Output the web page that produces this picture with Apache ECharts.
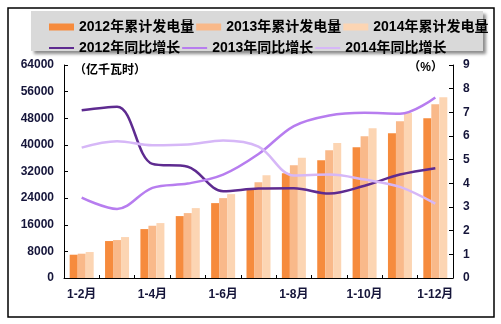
<!DOCTYPE html>
<html>
<head>
<meta charset="utf-8">
<script src="https://cdn.jsdelivr.net/npm/echarts@6/dist/echarts.min.js"></script>
<style>
  html, body { margin: 0; padding: 0; background: #fff; }
  #chart { width: 501px; height: 324px; }
</style>
</head>
<body>
<div id="chart"></div>
<script>
// Cumulative power generation (亿千瓦时) and year-on-year growth (%)
const categories = ['1-2月', '1-3月', '1-4月', '1-5月', '1-6月', '1-7月', '1-8月', '1-9月', '1-10月', '1-11月', '1-12月'];

const gen2012 = [7000, 11100, 14700, 18600, 22500, 26900, 31500, 35400, 39300, 43500, 48000];
const gen2013 = [7300, 11400, 15700, 19500, 24000, 28800, 33900, 38400, 42600, 47100, 52200];
const gen2014 = [7800, 12300, 16500, 21000, 25200, 30900, 36100, 40600, 45000, 49600, 54300];

const yoy2012 = [7.09, 7.24, 4.82, 4.70, 3.67, 3.78, 3.79, 3.57, 3.90, 4.37, 4.64];
const yoy2013 = [3.40, 2.92, 3.81, 3.99, 4.37, 5.24, 6.42, 6.87, 6.98, 6.94, 7.63];
const yoy2014 = [5.51, 5.78, 5.61, 5.64, 5.81, 5.55, 4.33, 4.37, 4.16, 3.85, 3.14];

const leftTicks = { min: 0, max: 64000, interval: 8000 };
const rightTicks = { min: 0, max: 9, interval: 1 };

const barColors = ['#F68B3D', '#F9B98A', '#FCD5B3'];
const lineColors = ['#5E2B90', '#B77DEF', '#D6B7F7'];

const fontFamily = '"Liberation Sans", Arial, "Noto Sans CJK SC", sans-serif';
const labelColor = '#15153a';

const chart = echarts.init(document.getElementById('chart'), null, { renderer: 'canvas' });

const barNames = ['2012年累计发电量', '2013年累计发电量', '2014年累计发电量'];
const lineNames = ['2012年同比增长', '2013年同比增长', '2014年同比增长'];
const barData = [gen2012, gen2013, gen2014];
const lineData = [yoy2012, yoy2013, yoy2014];

const series = [];
barData.forEach((d, i) => {
  series.push({
    name: barNames[i],
    type: 'bar',
    yAxisIndex: 0,
    data: d,
    barWidth: 8,
    barGap: '0%',
    itemStyle: { color: barColors[i] },
    z: 2
  });
});
lineData.forEach((d, i) => {
  series.push({
    name: lineNames[i],
    type: 'line',
    yAxisIndex: 1,
    data: d,
    smooth: 0.35,
    symbol: 'none',
    lineStyle: { color: lineColors[i], width: 2.5 },
    itemStyle: { color: lineColors[i] },
    z: 3
  });
});

const legendText = {
  fontFamily: fontFamily,
  fontWeight: 'bold',
  fontSize: 14,
  color: '#000',
  width: 118
};

const axisLabelStyle = {
  margin: 10,
  fontFamily: fontFamily,
  fontWeight: 'bold',
  fontSize: 12,
  color: labelColor,
  formatter: (v) => String(v)
};

chart.setOption({
  animation: false,
  backgroundColor: '#fff',
  graphic: [
    {
      type: 'rect',
      shape: { x: 8, y: 8, width: 486, height: 309 },
      style: { fill: 'none', stroke: '#000', lineWidth: 1.5 },
      z: 0
    },
    {
      type: 'rect',
      shape: { x: 31, y: 11, width: 452, height: 40 },
      style: {
        fill: '#d9d9d9',
        shadowBlur: 3,
        shadowOffsetX: 3,
        shadowOffsetY: 3,
        shadowColor: 'rgba(0,0,0,0.45)'
      },
      z: 0
    },
    {
      type: 'text',
      left: 74,
      top: 65,
      style: {
        text: '（亿千瓦时）',
        font: 'bold 12px ' + fontFamily,
        fill: '#000'
      },
      z: 5
    },
    {
      type: 'text',
      right: 58,
      top: 62,
      style: {
        text: '（%）',
        font: 'bold 12px ' + fontFamily,
        fill: '#000'
      },
      z: 5
    }
  ],
  legend: [
    {
      data: barNames,
      left: 44,
      top: 15,
      orient: 'horizontal',
      itemWidth: 25,
      itemHeight: 7,
      itemGap: 2,
      icon: 'rect',
      textStyle: legendText
    },
    {
      data: lineNames,
      left: 44,
      top: 36,
      orient: 'horizontal',
      itemWidth: 25,
      itemHeight: 2,
      itemGap: 2,
      icon: 'rect',
      textStyle: legendText
    }
  ],
  grid: { left: 64, right: 48, top: 65, bottom: 46 },
  xAxis: {
    type: 'category',
    data: categories,
    boundaryGap: true,
    axisLine: { lineStyle: { color: '#000', width: 1 } },
    axisTick: { show: true, inside: true, length: 3, interval: 0, lineStyle: { color: '#000' } },
    axisLabel: {
      interval: 1,
      margin: 11,
      fontFamily: fontFamily,
      fontWeight: 'bold',
      fontSize: 12,
      color: labelColor
    },
    splitLine: { show: false }
  },
  yAxis: [
    {
      type: 'value',
      min: leftTicks.min,
      max: leftTicks.max,
      interval: leftTicks.interval,
      axisLine: { show: true, lineStyle: { color: '#000', width: 1 } },
      axisTick: { show: true, inside: true, length: 4, lineStyle: { color: '#000' } },
      axisLabel: axisLabelStyle,
      splitLine: { show: false }
    },
    {
      type: 'value',
      position: 'right',
      min: rightTicks.min,
      max: rightTicks.max,
      interval: rightTicks.interval,
      axisLine: { show: true, lineStyle: { color: '#000', width: 1 } },
      axisTick: { show: true, inside: true, length: 4, lineStyle: { color: '#000' } },
      axisLabel: axisLabelStyle,
      splitLine: { show: false }
    }
  ],
  series: series
});
</script>
</body>
</html>
